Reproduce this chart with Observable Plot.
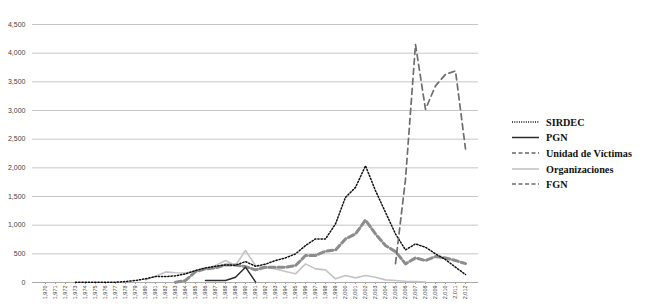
<!DOCTYPE html>
<html>
<head>
<meta charset="utf-8">
<script src="https://cdn.jsdelivr.net/npm/d3@7"></script>
<script src="https://cdn.jsdelivr.net/npm/@observablehq/plot@0.6"></script>
<style>
  html, body { margin: 0; padding: 0; background: #fff; }
  #chart { width: 650px; height: 308px; }
</style>
</head>
<body>
<div id="chart"></div>
<script>
// Categories (years on the x axis)
const years = [1970,1971,1972,1973,1974,1975,1976,1977,1978,1979,1980,1981,1982,1983,1984,1985,1986,1987,1988,1989,1990,1991,1992,1993,1994,1995,1996,1997,1998,1999,2000,2001,2002,2003,2004,2005,2006,2007,2008,2009,2010,2011,2012];

// Series: first year + values
const sirdecStart = 1973;
const sirdec = [5,5,5,5,5,17,35,64,104,104,116,151,209,255,284,307,300,365,284,320,383,429,499,644,760,760,1021,1485,1659,2036,1601,1224,847,568,673,615,499,400,267,139];

const pgnStart = 1986;
const pgn = [35,35,35,93,267,10];

const unidadStart = 1983;
const unidad = [5,35,190,238,255,307,307,278,220,267,267,267,296,470,470,545,568,760,847,1090,847,644,539,325,429,383,452,429,383,330];

const orgStart = 1980;
const organizaciones = [50,110,185,170,165,200,235,296,383,296,557,296,267,238,191,151,325,238,220,64,122,81,122,93,46,35,23,15,8];

const fgnStart = 2005;
const fgn = [330,1800,4150,3020,3430,3630,3690,2330];

const yTicks = [0,500,1000,1500,2000,2500,3000,3500,4000,4500];

const seriesNames = ["SIRDEC","PGN","Unidad de Víctimas","Organizaciones","FGN"];

function rows(start, vals) { return vals.map((v, i) => ({year: start + i, value: v})); }

const styles = {
  "SIRDEC": {stroke: "#111", strokeWidth: 1.5, strokeDasharray: "1.3,1.9"},
  "PGN": {stroke: "#2b2b2b", strokeWidth: 1.5},
  "Unidad de Víctimas": {stroke: "#8c8c8c", strokeWidth: 3, strokeDasharray: "6,3"},
  "Organizaciones": {stroke: "#c4c4c4", strokeWidth: 1.6},
  "FGN": {stroke: "#6e6e6e", strokeWidth: 1.7, strokeDasharray: "6,4"}
};

const plot = Plot.plot({
  width: 650,
  height: 308,
  marginLeft: 32,
  marginRight: 172,
  marginTop: 24,
  marginBottom: 26,
  style: {fontFamily: "Liberation Sans, Arial, sans-serif", background: "#fff"},
  x: {type: "point", domain: years, padding: 0.73, label: null},
  y: {domain: [0, 4500], label: null},
  marks: [
    Plot.gridY(yTicks, {stroke: "#c6c6c6", strokeOpacity: 1, strokeWidth: 1}),
    Plot.axisY(yTicks, {tickSize: 0, tickPadding: 7, fontSize: 7, fill: "#444", tickFormat: d3.format(","), label: null}),
    Plot.axisX(years, {tickSize: 2, stroke: "#999", tickPadding: 1, tickRotate: -90, fontSize: 5.5, fill: "#444", label: null}),
    Plot.ruleY([0], {stroke: "#aaa", strokeWidth: 1}),
    Plot.line(rows(orgStart, organizaciones), {x: "year", y: "value", ...styles["Organizaciones"]}),
    Plot.line(rows(unidadStart, unidad), {x: "year", y: "value", ...styles["Unidad de Víctimas"]}),
    Plot.line(rows(pgnStart, pgn), {x: "year", y: "value", ...styles["PGN"]}),
    Plot.line(rows(sirdecStart, sirdec), {x: "year", y: "value", ...styles["SIRDEC"]}),
    Plot.line(rows(fgnStart, fgn), {x: "year", y: "value", ...styles["FGN"]})
  ]
});

document.getElementById("chart").appendChild(plot);

// Legend on the right
const svg = d3.select(plot);
const lg = svg.append("g")
  .attr("font-family", "Liberation Serif, Times New Roman, serif")
  .attr("font-weight", "bold")
  .attr("font-size", 10.2)
  .attr("text-anchor", "start");
const legendYs = [122, 137.5, 153, 169, 184];
seriesNames.forEach((name, i) => {
  const s = styles[name];
  const y = legendYs[i];
  lg.append("line").attr("x1", 512).attr("x2", 539).attr("y1", y).attr("y2", y)
    .attr("stroke", s.stroke).attr("stroke-width", Math.min(s.strokeWidth, 2))
    .attr("stroke-dasharray", s.strokeDasharray ? (name === "SIRDEC" ? "1,1.3" : "4,2.5") : null);
  lg.append("text").attr("x", 546).attr("y", y + 3.5).attr("fill", "#111").attr("text-anchor", "start").text(name);
});
</script>
</body>
</html>
